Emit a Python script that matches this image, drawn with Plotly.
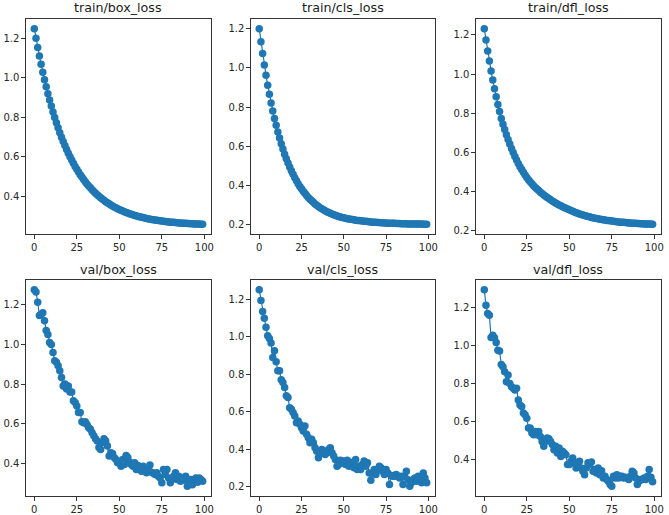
import plotly.graph_objects as go
from plotly.subplots import make_subplots

# Epochs 0..99
epochs = list(range(100))

train_box_loss = [
    1.250, 1.201, 1.155, 1.111, 1.069, 1.029, 0.991, 0.955, 0.920, 0.888,
    0.857, 0.827, 0.799, 0.772, 0.747, 0.722, 0.699, 0.677, 0.657, 0.637,
    0.618, 0.600, 0.583, 0.567, 0.551, 0.537, 0.523, 0.509, 0.497, 0.485,
    0.473, 0.462, 0.452, 0.442, 0.433, 0.424, 0.415, 0.407, 0.400, 0.392,
    0.385, 0.379, 0.372, 0.366, 0.361, 0.355, 0.350, 0.345, 0.341, 0.336,
    0.332, 0.328, 0.324, 0.321, 0.317, 0.314, 0.311, 0.308, 0.305, 0.302,
    0.300, 0.297, 0.295, 0.293, 0.291, 0.289, 0.287, 0.285, 0.283, 0.282,
    0.280, 0.279, 0.277, 0.276, 0.275, 0.274, 0.272, 0.271, 0.270, 0.269,
    0.268, 0.267, 0.267, 0.266, 0.265, 0.264, 0.264, 0.263, 0.262, 0.262,
    0.261, 0.261, 0.260, 0.260, 0.259, 0.259, 0.258, 0.258, 0.257, 0.257,
]

train_cls_loss = [
    1.200, 1.134, 1.073, 1.015, 0.962, 0.912, 0.865, 0.821, 0.780, 0.742,
    0.707, 0.673, 0.642, 0.613, 0.586, 0.560, 0.537, 0.515, 0.494, 0.475,
    0.457, 0.440, 0.424, 0.409, 0.395, 0.383, 0.371, 0.360, 0.349, 0.339,
    0.330, 0.322, 0.314, 0.306, 0.299, 0.293, 0.287, 0.281, 0.276, 0.271,
    0.266, 0.262, 0.258, 0.254, 0.251, 0.248, 0.245, 0.242, 0.239, 0.237,
    0.235, 0.233, 0.231, 0.229, 0.228, 0.226, 0.225, 0.223, 0.222, 0.221,
    0.220, 0.219, 0.218, 0.217, 0.216, 0.215, 0.214, 0.213, 0.213, 0.212,
    0.211, 0.211, 0.210, 0.210, 0.209, 0.209, 0.208, 0.208, 0.207, 0.207,
    0.207, 0.206, 0.206, 0.206, 0.205, 0.205, 0.205, 0.205, 0.204, 0.204,
    0.204, 0.204, 0.203, 0.203, 0.203, 0.203, 0.203, 0.202, 0.202, 0.202,
]

train_dfl_loss = [
    1.231, 1.173, 1.118, 1.066, 1.016, 0.969, 0.925, 0.884, 0.845, 0.809,
    0.773, 0.744, 0.717, 0.691, 0.666, 0.643, 0.621, 0.600, 0.580, 0.562,
    0.544, 0.528, 0.513, 0.499, 0.485, 0.472, 0.461, 0.451, 0.441, 0.431,
    0.422, 0.414, 0.406, 0.398, 0.391, 0.384, 0.377, 0.371, 0.365, 0.359,
    0.353, 0.348, 0.343, 0.338, 0.333, 0.329, 0.324, 0.320, 0.316, 0.312,
    0.308, 0.304, 0.300, 0.297, 0.293, 0.290, 0.287, 0.284, 0.281, 0.279,
    0.276, 0.274, 0.272, 0.269, 0.267, 0.265, 0.264, 0.262, 0.260, 0.259,
    0.257, 0.256, 0.254, 0.253, 0.252, 0.251, 0.249, 0.248, 0.247, 0.246,
    0.245, 0.245, 0.244, 0.243, 0.242, 0.241, 0.241, 0.240, 0.240, 0.239,
    0.238, 0.238, 0.237, 0.237, 0.236, 0.236, 0.236, 0.235, 0.235, 0.234,
]

val_box_loss = [
    1.276, 1.264, 1.213, 1.146, 1.153, 1.160, 1.120, 1.070, 1.050, 1.010,
    1.000, 0.960, 0.918, 0.910, 0.893, 0.867, 0.834, 0.790, 0.800, 0.775,
    0.790, 0.760, 0.760, 0.716, 0.707, 0.690, 0.657, 0.657, 0.610, 0.605,
    0.610, 0.597, 0.580, 0.572, 0.555, 0.540, 0.525, 0.513, 0.480, 0.470,
    0.505, 0.525, 0.513, 0.488, 0.437, 0.454, 0.450, 0.430, 0.420, 0.403,
    0.403, 0.386, 0.420, 0.395, 0.440, 0.430, 0.407, 0.395, 0.386, 0.403,
    0.370, 0.390, 0.383, 0.361, 0.386, 0.370, 0.353, 0.370, 0.392, 0.356,
    0.350, 0.344, 0.353, 0.336, 0.327, 0.302, 0.370, 0.344, 0.370, 0.327,
    0.302, 0.319, 0.336, 0.353, 0.319, 0.336, 0.310, 0.327, 0.316, 0.336,
    0.285, 0.302, 0.319, 0.293, 0.310, 0.327, 0.305, 0.327, 0.319, 0.310,
]

val_cls_loss = [
    1.250, 1.193, 1.134, 1.098, 1.050, 1.005, 0.990, 0.966, 0.889, 0.925,
    0.866, 0.818, 0.818, 0.770, 0.755, 0.729, 0.684, 0.675, 0.621, 0.613,
    0.595, 0.577, 0.541, 0.550, 0.532, 0.514, 0.496, 0.523, 0.479, 0.461,
    0.434, 0.452, 0.434, 0.407, 0.389, 0.354, 0.380, 0.398, 0.389, 0.371,
    0.380, 0.398, 0.407, 0.380, 0.363, 0.345, 0.309, 0.318, 0.341, 0.327,
    0.336, 0.318, 0.341, 0.309, 0.330, 0.327, 0.300, 0.345, 0.291, 0.309,
    0.291, 0.318, 0.336, 0.309, 0.327, 0.273, 0.234, 0.273, 0.291, 0.264,
    0.291, 0.309, 0.300, 0.282, 0.264, 0.291, 0.273, 0.211, 0.259, 0.255,
    0.255, 0.264, 0.255, 0.246, 0.255, 0.211, 0.255, 0.282, 0.237, 0.202,
    0.220, 0.237, 0.246, 0.229, 0.255, 0.241, 0.220, 0.273, 0.246, 0.220,
]

val_dfl_loss = [
    1.294, 1.212, 1.169, 1.160, 1.043, 1.055, 1.041, 1.017, 0.976, 0.971,
    0.900, 0.889, 0.863, 0.810, 0.845, 0.800, 0.784, 0.776, 0.767, 0.776,
    0.714, 0.688, 0.679, 0.645, 0.636, 0.618, 0.566, 0.566, 0.540, 0.531,
    0.548, 0.531, 0.548, 0.522, 0.496, 0.470, 0.496, 0.514, 0.510, 0.496,
    0.479, 0.452, 0.470, 0.435, 0.461, 0.417, 0.444, 0.435, 0.426, 0.374,
    0.374, 0.391, 0.409, 0.383, 0.356, 0.374, 0.391, 0.356, 0.339, 0.321,
    0.356, 0.383, 0.374, 0.388, 0.339, 0.348, 0.330, 0.356, 0.321, 0.342,
    0.304, 0.313, 0.295, 0.286, 0.269, 0.260, 0.313, 0.304, 0.321, 0.304,
    0.313, 0.313, 0.304, 0.307, 0.304, 0.295, 0.313, 0.339, 0.330, 0.304,
    0.269, 0.286, 0.295, 0.295, 0.304, 0.295, 0.313, 0.348, 0.307, 0.283,
]

titles = ["train/box_loss", "train/cls_loss", "train/dfl_loss",
          "val/box_loss", "val/cls_loss", "val/dfl_loss"]
series = [train_box_loss, train_cls_loss, train_dfl_loss,
          val_box_loss, val_cls_loss, val_dfl_loss]
x_ticks = [0, 25, 50, 75, 100]

W, H = 669, 515
col_px = [(26, 212), (252, 437), (478, 664)]
row_px = [(19, 235), (281, 498)]
title_px = [8, 271]
blue = "#1f77b4"

fig = make_subplots(rows=2, cols=3)

for i, (name, ys) in enumerate(zip(titles, series)):
    r, c = i // 3 + 1, i % 3 + 1
    fig.add_trace(go.Scatter(
        x=epochs, y=ys, mode="lines+markers",
        line=dict(color=blue, width=1.2),
        marker=dict(color=blue, size=7.5),
        showlegend=False,
    ), row=r, col=c)

    # matplotlib-like 5% margins around the data
    xpad = (max(epochs) - min(epochs)) * 0.05
    ypad = (max(ys) - min(ys)) * 0.05
    x0, x1 = col_px[c - 1]
    y0, y1 = row_px[r - 1]
    fig.update_xaxes(
        domain=[x0 / W, x1 / W],
        range=[min(epochs) - xpad, max(epochs) + xpad],
        tickvals=x_ticks, row=r, col=c,
    )
    fig.update_yaxes(
        domain=[1 - y1 / H, 1 - y0 / H],
        range=[min(ys) - ypad, max(ys) + ypad],
        dtick=0.2, tick0=0, tickformat=".1f", row=r, col=c,
    )
    fig.add_annotation(
        text=name, xref="paper", yref="paper",
        x=(x0 + x1) / 2 / W, y=1 - title_px[r - 1] / H,
        xanchor="center", yanchor="middle", showarrow=False,
        font=dict(size=12.7, color="#1a1a1a"),
    )

axis_style = dict(showline=True, mirror=True, linecolor="#333", linewidth=1,
                  ticks="outside", ticklen=3.5, tickcolor="#333",
                  showgrid=False, zeroline=False,
                  tickfont=dict(size=10, color="#262626"))
fig.update_xaxes(**axis_style)
fig.update_yaxes(**axis_style)

fig.update_layout(
    width=W, height=H,
    margin=dict(l=0, r=0, t=0, b=0),
    plot_bgcolor="white", paper_bgcolor="white",
    font=dict(family="DejaVu Sans"),
)

# drop the default page margin so the figure fills the window exactly
fig.write_html("out.html", config={"displayModeBar": False},
               post_script="document.body.style.margin='0';")
